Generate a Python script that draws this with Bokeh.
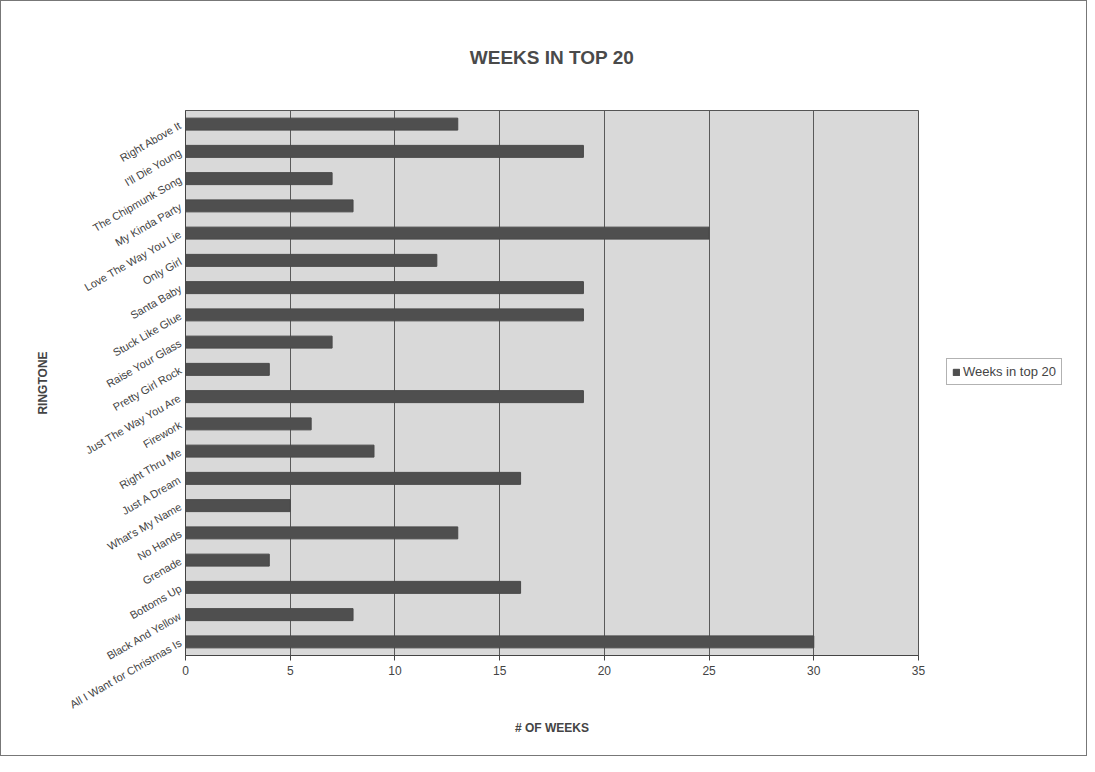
import math
from bokeh.plotting import figure
from bokeh.layouts import row
from bokeh.models import FactorRange, ColumnDataSource, Legend, LegendItem, Title, FixedTicker
from bokeh.embed import file_html
from bokeh.resources import INLINE

songs = [
    "Right Above It", "I'll Die Young", "The Chipmunk Song", "My Kinda Party",
    "Love The Way You Lie", "Only Girl", "Santa Baby", "Stuck Like Glue",
    "Raise Your Glass", "Pretty Girl Rock", "Just The Way You Are", "Firework",
    "Right Thru Me", "Just A Dream", "What's My Name", "No Hands", "Grenade",
    "Bottoms Up", "Black And Yellow", "All I Want for Christmas Is",
]
weeks = [13, 19, 7, 8, 25, 12, 19, 19, 7, 4, 19, 6, 9, 16, 5, 13, 4, 16, 8, 30]
x_ticks = [0, 5, 10, 15, 20, 25, 30, 35]
series_name = "Weeks in top 20"

source = ColumnDataSource(dict(song=songs, weeks=weeks))

BAR_FILL = "#4f4f4f"
BAR_LINE = "#484848"

p = figure(
    frame_width=733, frame_height=545,
    y_range=FactorRange(factors=list(reversed(songs))),
    x_range=(0, 35),
    output_backend="svg", toolbar_location=None,
    min_border_left=184, min_border_top=109, min_border_right=10, min_border_bottom=100,
)
p.title = None
p.add_layout(Title(text="WEEKS IN TOP 20", align="center", text_font="Liberation Sans",
                   text_font_size="19px", text_font_style="bold", text_color="#4a4a4a",
                   standoff=86), "above")

p.hbar(y="song", right="weeks", left=0, height=0.44, source=source,
       fill_color=BAR_FILL, line_color=BAR_LINE)

p.background_fill_color = "#d9d9d9"
p.border_fill_color = "white"
p.outline_line_color = "#555555"
p.outline_line_width = 1

p.xgrid.grid_line_color = "#5a5a5a"
p.xgrid.grid_line_width = 1
p.ygrid.grid_line_color = None
p.xaxis.ticker = FixedTicker(ticks=x_ticks)

for ax in (p.xaxis[0], p.yaxis[0]):
    ax.axis_line_color = "#444444"
    ax.major_tick_line_color = "#444444"
    ax.minor_tick_line_color = None
    ax.major_label_text_font = "Liberation Sans"
    ax.major_label_text_color = "#444444"
    ax.axis_label_text_font = "Liberation Sans"
    ax.axis_label_text_font_style = "bold"
    ax.axis_label_text_color = "#444444"
    ax.axis_label_text_font_size = "12px"

p.xaxis.major_label_text_font_size = "12px"
p.xaxis.major_tick_in = 0
p.xaxis.major_tick_out = 5
p.xaxis.axis_label = "# OF WEEKS"
p.xaxis.axis_label_standoff = 43

p.yaxis.major_label_text_font_size = "11px"
p.yaxis.major_label_orientation = math.radians(30)
p.yaxis.major_tick_out = 0
p.yaxis.major_tick_in = 0
p.yaxis.axis_label = "RINGTONE"
p.yaxis.axis_label_standoff = 12

# legend-only side figure (its glyph uses the same data, but lies outside this panel's range)
pl = figure(width=158, height=754, output_backend="svg", toolbar_location=None,
            x_axis_type=None, y_axis_type=None, min_border=0,
            x_range=(0, 1), y_range=(0, 1))
pl.outline_line_color = None
pl.xgrid.grid_line_color = None
pl.ygrid.grid_line_color = None
pl.background_fill_color = "white"
legend_r = pl.hbar(y="weeks", right="weeks", left="weeks", height=0.5, source=source,
                   fill_color=BAR_FILL, line_color=BAR_LINE)

legend = Legend(items=[LegendItem(label=series_name, renderers=[legend_r])],
                label_text_font="Liberation Sans", label_text_font_size="13px",
                label_text_color="#444444", border_line_color="#666666",
                glyph_width=8, glyph_height=8, padding=5, spacing=0,
                label_standoff=3, margin=0, location=(18, 270))
pl.add_layout(legend)

layout = row(p, pl, spacing=0)
layout.styles = {"border": "1px solid #777777"}

open("out.html", "w").write(file_html(layout, INLINE))
